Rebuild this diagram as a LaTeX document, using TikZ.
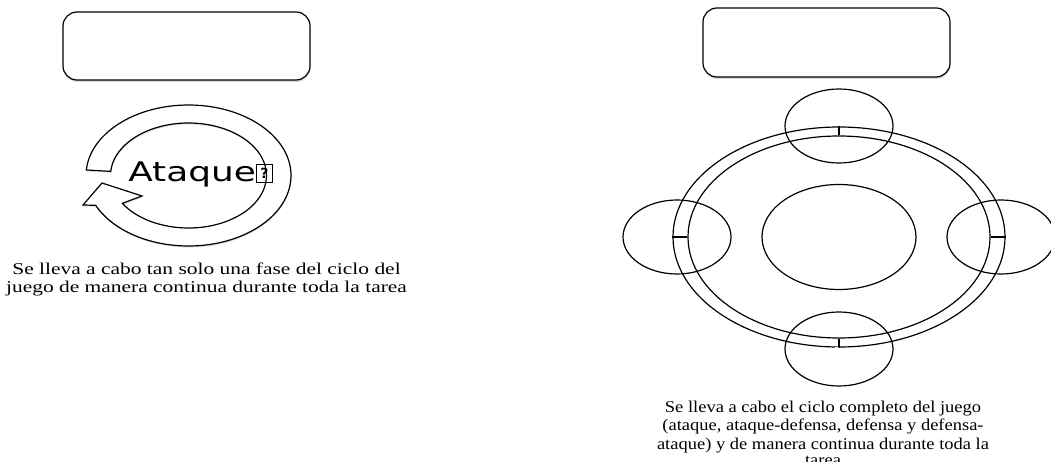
\documentclass[tikz,border=0pt]{standalone}
\usepackage{fontspec}
\setmainfont{Liberation Serif}
\newfontfamily\dejavu{DejaVu Sans}
\usetikzlibrary{shapes.geometric,shadows,calc}
\begin{document}
\begin{tikzpicture}[x=1pt,y=1pt,
  rbox/.style={draw=black, line width=1.2pt, rounded corners=14pt, fill=white,
    drop shadow={shadow xshift=0.5pt, shadow yshift=-2pt, opacity=0.3}},
  ell/.style={draw=black, line width=1.2pt, shape=ellipse, inner sep=0pt},
  tick/.style={draw=black, line width=1.2pt},
  capL/.style={font=\fontsize{16.5}{18.6}\selectfont, xscale=1.30, anchor=base, inner sep=0pt},
  capR/.style={font=\fontsize{16.5}{18.6}\selectfont, xscale=1.12, anchor=base, inner sep=0pt},
  carrow/.style={draw=black, line width=1.2pt, fill=white, line join=miter,
    drop shadow={shadow xshift=0.5pt, shadow yshift=-1.5pt, opacity=0.25}}
]
\useasboundingbox (0,0) rectangle (1051,461);
% top boxes
\node[rbox, minimum width=247, minimum height=68] (boxL) at (186.5,415) {};
\node[rbox, minimum width=247, minimum height=69] (boxR) at (826.5,418.5) {};
% left circular arrow
\coordinate (cc) at (188.5,285.5);
\draw[carrow] ($(cc)+(175.5:102.5 and 70.5)$)
  arc[start angle=175.5, end angle=-155, x radius=102.5, y radius=70.5]
  -- (83,256) -- (102,278) -- (142,265)
  -- ($(cc)+(-148:78 and 52.5)$)
  arc[start angle=-148, end angle=175.5, x radius=78, y radius=52.5] -- cycle;
\node[font=\dejavu\fontsize{27}{30}\selectfont, xscale=1.33, anchor=base west, inner sep=0pt] (ataque) at (128,279) {Ataque};
\node[draw=black, line width=1.1pt, minimum width=16, minimum height=18, inner sep=0pt,
  font=\dejavu\bfseries\fontsize{14}{14}\selectfont] (tofu) at (264.5,287.5) {?};
% left caption
\node[capL] (capL1) at (206.5,187) {Se lleva a cabo tan solo una fase del ciclo del};
\node[capL] (capL2) at (206.5,168.3) {juego de manera continua durante toda la tarea};
% right cycle
\node[ell, minimum width=332, minimum height=220] (ringout) at (839,224) {};
\node[ell, minimum width=302, minimum height=202] (ringin) at (839,224) {};
\node[ell, minimum width=154, minimum height=105] (mid) at (839,224) {};
\node[ell, minimum width=108, minimum height=74] (etop) at (839,335) {};
\node[ell, minimum width=108, minimum height=74] (ebot) at (839,112) {};
\node[ell, minimum width=108, minimum height=74] (eleft) at (677,224) {};
\node[ell, minimum width=108, minimum height=74] (eright) at (1001,224) {};
\draw[tick] (ringin.north) -- (ringout.north);
\draw[tick] (ringin.south) -- (ringout.south);
\draw[tick] (ringin.west) -- (ringout.west);
\draw[tick] (ringin.east) -- (ringout.east);
\node[font=\dejavu\fontsize{12}{12}\selectfont, xscale=1.45, text=white, anchor=base, inner sep=0pt] (defensa) at (844,105) {Defensa};
% right caption
\node[capR] (capR1) at (823,49) {Se lleva a cabo el ciclo completo del juego};
\node[capR] (capR2) at (823,30.5) {(ataque, ataque-defensa, defensa y defensa-};
\node[capR] (capR3) at (823,12) {ataque) y de manera continua durante toda la};
\node[capR] (capR4) at (823,-4) {tarea};
\end{tikzpicture}
\end{document}
